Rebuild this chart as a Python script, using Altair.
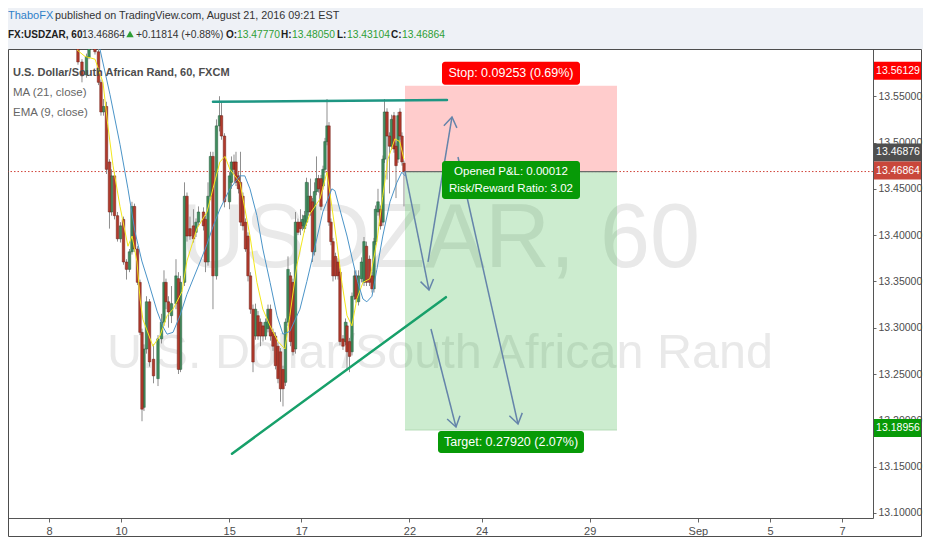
import altair as alt
import pandas as pd

# ---------------- data ----------------
# bar times in trading days from Aug 8 (weekends removed)
bar_times = [0.804, 0.915, 1.040, 1.110, 1.193, 1.276, 1.373, 1.442, 1.512, 1.595,
             1.678, 1.734, 1.817, 1.900, 1.983, 2.067, 2.150, 2.233, 2.302, 2.372,
             2.455, 2.524, 2.580, 2.635, 2.705, 2.788, 2.899, 3.024, 3.121, 3.190,
             3.245, 3.315, 3.398, 3.523, 3.592, 3.648, 3.759, 3.828, 3.911, 4.008,
             4.078, 4.147, 4.286, 4.341, 4.411, 4.480, 4.549, 4.646, 4.730, 4.785,
             4.868, 5.007, 5.062, 5.132, 5.187, 5.257, 5.312, 5.381, 5.451, 5.520,
             5.589, 5.659, 5.728, 5.798, 5.867, 5.936, 6.006, 6.075, 6.144, 6.214,
             6.283, 6.352, 6.422, 6.491, 6.560, 6.630, 6.699, 6.768, 6.838, 6.907,
             6.976, 7.032, 7.087, 7.143, 7.198, 7.254, 7.309, 7.365, 7.420, 7.476,
             7.545, 7.601, 7.656, 7.712, 7.767, 7.822, 7.878, 7.947, 8.017, 8.072,
             8.155, 8.225, 8.266, 8.336, 8.405, 8.474, 8.516, 8.585, 8.669, 8.738,
             8.807, 8.890, 8.960, 9.015, 9.057, 9.126, 9.196, 9.265, 9.307, 9.376,
             9.445, 9.501, 9.570, 9.626, 9.681, 9.736, 9.792, 9.847]

opens = [13.603, 13.587, 13.573, 13.592, 13.603, 13.612, 13.598, 13.565, 13.533, 13.539,
         13.479, 13.425, 13.464, 13.421, 13.396, 13.417, 13.371, 13.363, 13.382, 13.431,
         13.385, 13.349, 13.295, 13.214, 13.277, 13.328, 13.266, 13.245, 13.288, 13.306,
         13.349, 13.328, 13.313, 13.326, 13.353, 13.255, 13.349, 13.442, 13.407, 13.410,
         13.403, 13.414, 13.425, 13.417, 13.371, 13.442, 13.485, 13.356, 13.518, 13.529,
         13.507, 13.436, 13.457, 13.479, 13.479, 13.464, 13.457, 13.442, 13.414, 13.399,
         13.356, 13.320, 13.291, 13.313, 13.306, 13.302, 13.291, 13.299, 13.320, 13.295,
         13.291, 13.280, 13.274, 13.255, 13.241, 13.306, 13.356, 13.349, 13.277, 13.414,
         13.414, 13.410, 13.407, 13.414, 13.425, 13.442, 13.436, 13.382, 13.447, 13.461,
         13.461, 13.453, 13.471, 13.501, 13.518, 13.414, 13.393, 13.377, 13.371, 13.360,
         13.288, 13.285, 13.302, 13.285, 13.274, 13.334, 13.356, 13.328, 13.353, 13.349,
         13.388, 13.374, 13.356, 13.342, 13.393, 13.425, 13.428, 13.414, 13.482, 13.533,
         13.507, 13.496, 13.529, 13.496, 13.482, 13.533, 13.507, 13.4777]
highs = [13.606, 13.590, 13.596, 13.606, 13.615, 13.616, 13.601, 13.568, 13.547, 13.544,
         13.482, 13.471, 13.468, 13.425, 13.414, 13.420, 13.374, 13.385, 13.436, 13.434,
         13.388, 13.352, 13.299, 13.282, 13.334, 13.331, 13.282, 13.292, 13.315, 13.362,
         13.353, 13.334, 13.345, 13.374, 13.360, 13.356, 13.457, 13.446, 13.420, 13.428,
         13.418, 13.431, 13.430, 13.421, 13.457, 13.490, 13.490, 13.525, 13.550, 13.544,
         13.510, 13.468, 13.485, 13.487, 13.490, 13.468, 13.490, 13.446, 13.418, 13.403,
         13.360, 13.325, 13.326, 13.318, 13.310, 13.306, 13.310, 13.325, 13.325, 13.299,
         13.295, 13.284, 13.278, 13.259, 13.310, 13.377, 13.360, 13.353, 13.425, 13.418,
         13.428, 13.422, 13.426, 13.462, 13.457, 13.461, 13.440, 13.457, 13.485, 13.465,
         13.465, 13.475, 13.505, 13.547, 13.522, 13.418, 13.397, 13.381, 13.375, 13.364,
         13.292, 13.310, 13.306, 13.289, 13.338, 13.362, 13.362, 13.362, 13.376, 13.398,
         13.393, 13.378, 13.360, 13.397, 13.432, 13.450, 13.432, 13.486, 13.547, 13.537,
         13.511, 13.530, 13.533, 13.500, 13.533, 13.537, 13.511, 13.4805]
lows = [13.584, 13.565, 13.570, 13.590, 13.600, 13.595, 13.562, 13.529, 13.529, 13.466,
        13.407, 13.421, 13.417, 13.393, 13.392, 13.368, 13.352, 13.360, 13.379, 13.382,
        13.346, 13.292, 13.199, 13.210, 13.272, 13.258, 13.240, 13.237, 13.283, 13.302,
        13.320, 13.300, 13.305, 13.320, 13.250, 13.252, 13.345, 13.393, 13.395, 13.392,
        13.398, 13.410, 13.405, 13.360, 13.367, 13.438, 13.320, 13.352, 13.512, 13.503,
        13.430, 13.428, 13.450, 13.466, 13.453, 13.445, 13.410, 13.405, 13.382, 13.350,
        13.315, 13.252, 13.287, 13.287, 13.280, 13.285, 13.287, 13.295, 13.286, 13.275,
        13.255, 13.240, 13.220, 13.215, 13.237, 13.302, 13.280, 13.270, 13.272, 13.400,
        13.400, 13.405, 13.403, 13.410, 13.421, 13.421, 13.371, 13.378, 13.443, 13.446,
        13.427, 13.449, 13.467, 13.497, 13.410, 13.389, 13.350, 13.352, 13.352, 13.281,
        13.276, 13.281, 13.255, 13.252, 13.270, 13.330, 13.327, 13.324, 13.349, 13.345,
        13.345, 13.345, 13.338, 13.338, 13.389, 13.421, 13.406, 13.410, 13.478, 13.460,
        13.445, 13.492, 13.489, 13.440, 13.478, 13.503, 13.475, 13.43104]
closes = [13.587, 13.572, 13.593, 13.603, 13.612, 13.598, 13.565, 13.533, 13.539, 13.471,
          13.425, 13.464, 13.421, 13.396, 13.410, 13.371, 13.363, 13.382, 13.431, 13.385,
          13.349, 13.295, 13.212, 13.277, 13.328, 13.263, 13.248, 13.288, 13.306, 13.349,
          13.328, 13.317, 13.326, 13.356, 13.255, 13.349, 13.442, 13.399, 13.399, 13.396,
          13.414, 13.425, 13.410, 13.371, 13.442, 13.485, 13.356, 13.518, 13.529, 13.507,
          13.436, 13.464, 13.479, 13.471, 13.457, 13.450, 13.414, 13.410, 13.385, 13.356,
          13.320, 13.263, 13.320, 13.291, 13.291, 13.291, 13.306, 13.320, 13.291, 13.280,
          13.259, 13.245, 13.234, 13.234, 13.306, 13.363, 13.285, 13.274, 13.414, 13.403,
          13.407, 13.417, 13.421, 13.457, 13.442, 13.425, 13.382, 13.447, 13.461, 13.450,
          13.431, 13.471, 13.501, 13.518, 13.414, 13.393, 13.356, 13.356, 13.356, 13.285,
          13.280, 13.306, 13.274, 13.269, 13.334, 13.356, 13.331, 13.356, 13.371, 13.393,
          13.349, 13.349, 13.342, 13.393, 13.428, 13.436, 13.410, 13.482, 13.533, 13.507,
          13.496, 13.525, 13.493, 13.475, 13.529, 13.507, 13.479, 13.46864]

# indicator samples: positions given on a reading grid (T0 + k * DT trading days)
GRID_T0 = 0.777
GRID_DT = 0.0714
# MA (21, close)
ma21_idx = [7.0, 8.9, 12.8, 16.7, 19.8, 22.5, 25.2, 28.0, 31.1, 33.4, 35.0, 37.3, 40.0, 42.7,
            47.8, 50.5, 52.8, 55.5, 59.4, 63.3, 65.2, 67.2, 69.9, 72.2, 75.0, 77.7, 80.0,
            82.7, 86.6, 89.3, 91.6, 95.5, 99.0, 100.2, 102.1, 104.9, 107.2, 109.1, 111.1,
            112.6, 114.6, 116.5, 118.8, 121.6, 124.3, 126.2, 127.4]
ma21_val = [13.623, 13.601, 13.552, 13.498, 13.450, 13.404, 13.372, 13.347, 13.318, 13.301,
            13.293, 13.295, 13.313, 13.336, 13.371, 13.390, 13.409, 13.428, 13.450, 13.464,
            13.464, 13.450, 13.421, 13.385, 13.349, 13.313, 13.293, 13.296, 13.320, 13.350,
            13.377, 13.425, 13.450, 13.448, 13.428, 13.399, 13.371, 13.349, 13.331, 13.328,
            13.334, 13.363, 13.399, 13.436, 13.457, 13.468, 13.464]
# EMA (9, close)
ema9_idx = [0.0, 3.1, 7.0, 10.1, 12.0, 14.0, 16.7, 19.8, 21.4, 23.3, 24.5, 25.6, 29.5, 32.2,
            35.0, 37.3, 40.8, 42.7, 46.6, 50.5, 52.8, 55.5, 57.5, 59.4, 63.3, 67.2, 69.9,
            72.2, 75.0, 78.1, 80.8, 82.7, 85.4, 88.5, 90.5, 94.4, 97.1, 99.0, 100.9, 102.9,
            104.9, 106.8, 108.7, 111.1, 113.8, 116.5, 118.8, 120.8, 123.5, 125.4, 127.0]
ema9_val = [13.600, 13.593, 13.590, 13.565, 13.518, 13.475, 13.431, 13.388, 13.399, 13.371,
            13.331, 13.309, 13.280, 13.291, 13.313, 13.320, 13.339, 13.372, 13.407, 13.425,
            13.450, 13.479, 13.485, 13.471, 13.457, 13.399, 13.349, 13.320, 13.302, 13.285,
            13.277, 13.313, 13.367, 13.407, 13.423, 13.439, 13.468, 13.431, 13.393, 13.349,
            13.313, 13.302, 13.331, 13.349, 13.353, 13.393, 13.442, 13.482, 13.504, 13.501,
            13.482]

tick_days = [0, 2, 5, 7, 10, 12, 15, 18, 20, 22]
tick_labels = ["8", "10", "15", "17", "22", "24", "29", "Sep", "5", "7"]
price_ticks = [13.10, 13.15, 13.20, 13.25, 13.30, 13.35, 13.40, 13.45, 13.50, 13.55]
X_DOMAIN = [-1.137, 22.857]
Y_DOMAIN = [13.0945, 13.601]

entry_price = 13.46864
stop_price = 13.56129
target_price = 13.18956
ema_last = 13.46876
box_days = [9.875, 15.756]

# drawings: trend lines and arrows (start day, start price, end day, end price)
trend_d0 = [4.549, 5.076]
trend_p0 = [13.544, 13.164]
trend_d1 = [11.04, 11.01]
trend_p1 = [13.546, 13.333]
trend_col = ["#1e9683", "#17a06a"]

arrow_d0 = [9.875, 10.513, 10.596, 11.345]
arrow_p0 = [13.4692, 13.3710, 13.2986, 13.4844]
arrow_d1 = [10.541, 11.179, 11.290, 13.010]
arrow_p1 = [13.3407, 13.5276, 13.1928, 13.1960]
arrow_ang = [168.6, 9.4, 165.7, 167.3]

# ---------------- build ----------------
FONT = "Liberation Sans, Arial, sans-serif"
W, H = 865, 469
PR = 50  # right padding (price axis)

xs = alt.Scale(domain=X_DOMAIN, nice=False, zero=False, padding=0)
ys = alt.Scale(domain=Y_DOMAIN, nice=False, zero=False, padding=0)

label_expr = " : ".join(f"datum.value == {d} ? '{l}'" for d, l in zip(tick_days, tick_labels)) + " : ''"
ax_x = alt.Axis(values=tick_days, labelExpr=label_expr, title=None, grid=False,
                tickSize=4, labelPadding=3, labelFont=FONT, labelFontSize=11,
                labelColor="#4d4d4d", tickColor="#666", domainColor="#555", labelOverlap=False)
ax_y = alt.Axis(orient="right", values=price_ticks, format=".5f", title=None,
                grid=False, tickSize=3, labelPadding=2, labelFont=FONT,
                labelFontSize=10.5, labelColor="#4d4d4d", tickColor="#666",
                domainColor="#555", labelOverlap=False)

candles = pd.DataFrame({"t": bar_times, "o": opens, "h": highs, "l": lows, "c": closes})
candles["dir"] = ["up" if c >= o else "down" for o, c in zip(opens, closes)]

ma = pd.DataFrame({"t": [GRID_T0 + k * GRID_DT for k in ma21_idx], "v": ma21_val})
ema = pd.DataFrame({"t": [GRID_T0 + k * GRID_DT for k in ema9_idx], "v": ema9_val})

one = pd.DataFrame({"k": [0]})
box_center = (box_days[0] + box_days[1]) / 2


def txt(text, x, y, color, size, weight="normal", font=FONT, align="left", baseline="alphabetic"):
    return alt.Chart(one).mark_text(text=text, align=align, baseline=baseline, font=font,
                                    fontSize=size, fontWeight=weight, color=color).encode(
        x=alt.value(x), y=alt.value(y))


X = lambda f: alt.X(f, type="quantitative", scale=xs, axis=ax_x)
Y = lambda f: alt.Y(f, type="quantitative", scale=ys, axis=ax_y)

layers = []

# header band / panel border
layers.append(alt.Chart(one).mark_rect(color="#eef1f6").encode(
    x=alt.value(0), x2=alt.value(W + PR), y=alt.value(-41), y2=alt.value(0)))
layers.append(alt.Chart(one).mark_rect(fill=None, stroke="#4d4d4d", strokeWidth=1).encode(
    x=alt.value(0.5), x2=alt.value(W + PR - 1.5), y=alt.value(0.5), y2=alt.value(H + 18.5)))

# watermark
layers.append(txt("USDZAR, 60", 432, 191, "#e9e9e9", 90, align="center", baseline="middle"))
layers.append(txt("U.S. Dollar/South African Rand", 432, 304, "#e9e9e9", 48.5, align="center", baseline="middle"))

# last price dotted line
pl = pd.DataFrame({"p": [entry_price]})
layers.append(alt.Chart(pl).mark_rule(color="#d0453a", strokeDash=[1.5, 2], strokeWidth=1).encode(y=Y("p")))

# position boxes
bx = pd.DataFrame({"x0": [box_days[0]], "x1": [box_days[1]], "e": [entry_price],
                   "s": [stop_price], "tg": [target_price]})
layers.append(alt.Chart(bx).mark_rect(color="#ff0000", opacity=0.2).encode(x=X("x0"), x2="x1", y=Y("e"), y2="s"))
layers.append(alt.Chart(bx).mark_rect(color="#00a010", opacity=0.2).encode(x=X("x0"), x2="x1", y=Y("tg"), y2="e"))
layers.append(alt.Chart(bx).mark_rule(color="#6b6b6b", strokeWidth=1.2).encode(x=X("x0"), x2="x1", y=Y("e")))
layers.append(alt.Chart(bx).mark_rule(color="#b5dcb8", strokeWidth=1).encode(x=X("x0"), x2="x1", y=Y("tg")))

# candles
layers.append(alt.Chart(candles).mark_rule(color="#8f8f8f", strokeWidth=1, clip=True).encode(
    x=X("t"), y=Y("l"), y2="h"))
layers.append(alt.Chart(candles).transform_filter("datum.dir == 'up'").mark_bar(
    width=2.5, color="#3f8d5e", stroke="#24583a", strokeWidth=0.5, clip=True).encode(
    x=X("t"), y=Y("o"), y2="c"))
layers.append(alt.Chart(candles).transform_filter("datum.dir == 'down'").mark_bar(
    width=2.5, color="#b23a2c", stroke="#6a1d14", strokeWidth=0.5, clip=True).encode(
    x=X("t"), y=Y("o"), y2="c"))

# moving averages
layers.append(alt.Chart(ema).mark_line(color="#f3e81c", strokeWidth=1, clip=True).encode(x=X("t"), y=Y("v")))
layers.append(alt.Chart(ma).mark_line(color="#4b94c8", strokeWidth=1, clip=True).encode(x=X("t"), y=Y("v")))

# trend lines
tr = pd.DataFrame({"d0": trend_d0, "p0": trend_p0, "d1": trend_d1, "p1": trend_p1, "col": trend_col})
layers.append(alt.Chart(tr).mark_rule(strokeWidth=2.5, strokeCap="round").encode(
    x=X("d0"), x2="d1", y=Y("p0"), y2="p1", color=alt.Color("col:N", scale=None)))

# arrows
ar = pd.DataFrame({"d0": arrow_d0, "p0": arrow_p0, "d1": arrow_d1, "p1": arrow_p1, "a": arrow_ang})
layers.append(alt.Chart(ar).mark_rule(color="#6584aa", strokeWidth=1.5).encode(
    x=X("d0"), x2="d1", y=Y("p0"), y2="p1"))
layers.append(alt.Chart(ar).mark_point(shape="M -0.5 0.75 L 0 0 L 0.5 0.75", filled=False, size=700,
                                       color="#6584aa", strokeWidth=1.5, opacity=1).encode(
    x=X("d1"), y=Y("p1"), angle=alt.Angle("a:Q", scale=None)))

# position labels
lb = pd.DataFrame({"xc": [box_center], "s": [stop_price], "e": [entry_price], "tg": [target_price]})
layers.append(alt.Chart(lb).mark_rect(color="#ff0000", cornerRadius=3, xOffset=-69, x2Offset=69,
                                      yOffset=-24, y2Offset=-1).encode(x=X("xc"), x2="xc", y=Y("s"), y2="s"))
layers.append(alt.Chart(lb).mark_text(text="Stop: 0.09253 (0.69%)", color="white", font=FONT,
                                      fontSize=12.5, dy=-12.5, baseline="middle").encode(x=X("xc"), y=Y("s")))
layers.append(alt.Chart(lb).mark_rect(color="#079a07", cornerRadius=3, xOffset=-69, x2Offset=69,
                                      yOffset=-10.5, y2Offset=27.5).encode(x=X("xc"), x2="xc", y=Y("e"), y2="e"))
layers.append(alt.Chart(lb).mark_text(text="Opened P&L: 0.00012", color="white", font=FONT,
                                      fontSize=11.5, dy=0.5, baseline="middle").encode(x=X("xc"), y=Y("e")))
layers.append(alt.Chart(lb).mark_text(text="Risk/Reward Ratio: 3.02", color="white", font=FONT,
                                      fontSize=11.5, dy=17, baseline="middle").encode(x=X("xc"), y=Y("e")))
layers.append(alt.Chart(lb).mark_rect(color="#079a07", cornerRadius=3, xOffset=-73, x2Offset=73,
                                      yOffset=1, y2Offset=23).encode(x=X("xc"), x2="xc", y=Y("tg"), y2="tg"))
layers.append(alt.Chart(lb).mark_text(text="Target: 0.27920 (2.07%)", color="white", font=FONT,
                                      fontSize=12.5, dy=12, baseline="middle").encode(x=X("xc"), y=Y("tg")))

# right-axis price labels
def axis_label(price, text, color, off):
    d = pd.DataFrame({"p": [price]})
    r = alt.Chart(d).mark_rect(color=color, yOffset=off - 9, y2Offset=off + 9).encode(
        x=alt.value(W + 1), x2=alt.value(W + PR - 2), y=Y("p"), y2="p")
    t = alt.Chart(d).mark_text(text=text, color="white", font=FONT, fontSize=10.5, dy=off,
                               baseline="middle", align="center").encode(x=alt.value(W + PR / 2), y=Y("p"))
    return [r, t]

layers += axis_label(stop_price, "13.56129", "#ff0000", -15)
layers += axis_label(ema_last, "13.46876", "#4f4f4f", -19)
layers += axis_label(entry_price, "13.46864", "#c9473b", -1)
layers += axis_label(target_price, "13.18956", "#079a07", -2)

# legend
layers.append(txt("U.S. Dollar/South African Rand, 60, FXCM", 5, 27, "#4d4d4d", 11, weight="bold"))
layers.append(txt("MA (21, close)", 5, 47, "#666666", 11.5))
layers.append(txt("EMA (9, close)", 5, 67, "#666666", 11.5))

# header
layers.append(txt("ThaboFX", 0, -30, "#2f7fc8", 11))
layers.append(txt("published on TradingView.com, August 21, 2016 09:21 EST", 47, -30, "#333333", 10.8))
hy = -11
layers.append(txt("FX:USDZAR, 60", 0, hy, "#1d1d1d", 10, weight="bold"))
layers.append(txt("13.46864", 74, hy, "#333333", 10.3))
layers.append(alt.Chart(one).mark_point(shape="triangle-up", filled=True, size=55, color="#2e9e35",
                                        opacity=1).encode(x=alt.value(122), y=alt.value(-15)))
layers.append(txt("+0.11814 (+0.88%)", 128, hy, "#333333", 10.3))
for lab, xl, val, xv in [("O:", 218, "13.47770", 229), ("H:", 273, "13.48050", 284),
                         ("L:", 329, "13.43104", 339), ("C:", 383, "13.46864", 394)]:
    layers.append(txt(lab, xl, hy, "#1d1d1d", 10, weight="bold"))
    layers.append(txt(val, xv, hy, "#2e9e35", 10.3))

chart = alt.layer(*layers).properties(
    width=W, height=H, autosize="none",
    padding={"left": 0, "top": 41, "right": PR, "bottom": 19},
    background="white",
).configure_view(stroke=None)

chart.save("out.html", embed_options={"renderer": "svg", "actions": False})
